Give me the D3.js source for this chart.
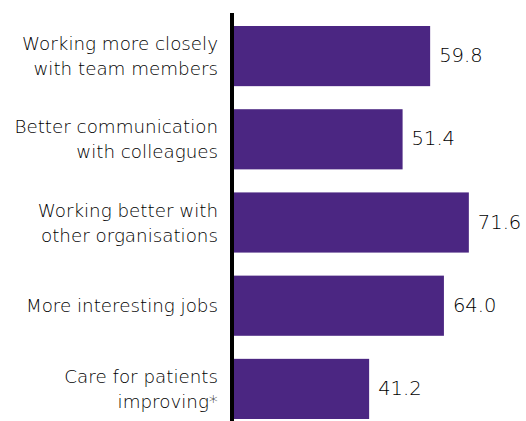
<!DOCTYPE html>
<html>
<head>
<meta charset="utf-8">
<script src="https://cdn.jsdelivr.net/npm/d3@7"></script>
<style>
  html, body { margin: 0; padding: 0; background: #fff; }
  svg { display: block; }
  text { font-family: "DejaVu Sans", sans-serif; font-weight: 200; fill: #000; }
</style>
</head>
<body>
<svg id="chart" width="526" height="421"></svg>
<script>
const categories = [
  ["Working more closely", "with team members"],
  ["Better communication", "with colleagues"],
  ["Working better with", "other organisations"],
  ["More interesting jobs"],
  ["Care for patients", "improving*"]
];
const values = [59.8, 51.4, 71.6, 64.0, 41.2];
const valueLabels = ["59.8", "51.4", "71.6", "64.0", "41.2"];

const svg = d3.select("#chart");
const x0 = 234;
const x = d3.scaleLinear().domain([0, 80]).range([x0, x0 + 80 * 3.28]);
const y = d3.scaleBand().domain(d3.range(values.length)).range([26, 419]).paddingInner(0.277).paddingOuter(0);

svg.selectAll("rect.bar")
  .data(values)
  .join("rect")
  .attr("class", "bar")
  .attr("x", x(0))
  .attr("y", (d, i) => y(i))
  .attr("width", d => x(d) - x(0))
  .attr("height", y.bandwidth())
  .attr("fill", "#4b2682");

svg.selectAll("text.val")
  .data(values)
  .join("text")
  .attr("class", "val")
  .attr("x", d => x(d) + 9)
  .attr("y", (d, i) => y(i) + y.bandwidth() / 2 + 6)
  .attr("font-size", 19.5)
  .text((d, i) => valueLabels[i]);

const lh = 25;
const lab = svg.selectAll("text.cat")
  .data(categories)
  .join("text")
  .attr("class", "cat")
  .attr("text-anchor", "end")
  .attr("font-size", 18.3)
  .attr("y", (d, i) => y(i) + y.bandwidth() / 2 + 6.5 - (d.length - 1) * lh / 2);
lab.selectAll("tspan")
  .data(d => d)
  .join("tspan")
  .attr("x", 218)
  .attr("dy", (d, j) => j === 0 ? 0 : lh)
  .text(d => d);

svg.append("line")
  .attr("x1", 232).attr("x2", 232)
  .attr("y1", 13).attr("y2", 421)
  .attr("stroke", "#000")
  .attr("stroke-width", 4);
</script>
</body>
</html>
